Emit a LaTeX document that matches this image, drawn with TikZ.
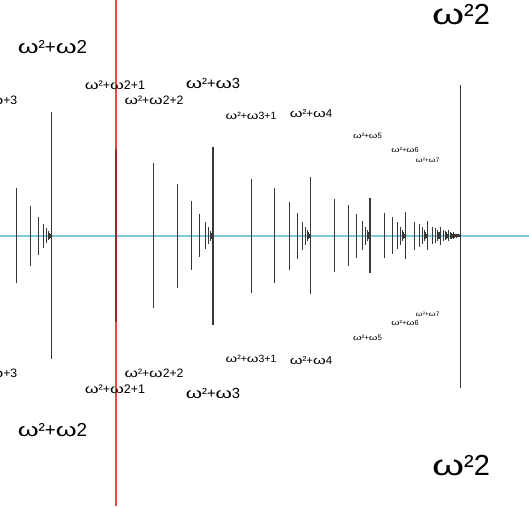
\documentclass[tikz,border=0pt]{standalone}
\usepackage{fontspec}
\setmainfont{Liberation Sans}
\definecolor{axiscyan}{RGB}{125,200,220}
\definecolor{cursorred}{RGB}{235,70,70}
\definecolor{cursordark}{RGB}{160,35,35}
\newcommand\omg{\scalebox{1.42}[1]{ω}}
\tikzset{
  stick/.style={draw=black!78, line width=1.05pt},
  cursor/.style={draw=cursorred, line width=1.6pt},
  lbl/.style={inner sep=0pt, text=black, font=\fontsize{#1}{#1}\selectfont},
}
\newcommand\stk[3]{\draw[stick] (#1,#3) ++(0,-#2) -- ++(0,{2*#2});}
\begin{document}
\begin{tikzpicture}[x=1pt,y=-1pt]
\useasboundingbox (0,0) rectangle (529,506);
\fill[white] (0,0) rectangle (529,506);
\draw[axiscyan, line width=1.8pt] (0,235.7) -- (529,235.7);
% block omega^2+omega
\foreach \j in {0,...,12} {
  \pgfmathsetmacro\xx{51.7-35.4*0.605^\j}
  \pgfmathsetmacro\hh{max(47.5*0.63^\j,1.2)}
  \stk{\xx}{\hh}{235.7}
}
% blocks 2..6
\foreach \bL/\bS/\bH in {213/161.3/86.5, 310.7/97.7/57, 370/59.3/36.5, 405.7/35.7/22.5, 427.7/22/14}{
  \foreach \n/\gf in {1/1, 2/0.835, 3/0.6, 4/0.4, 5/0.248, 6/0.157, 7/0.097, 8/0.06, 9/0.037, 10/0.023, 11/0.014, 12/0.009}{
    \pgfmathsetmacro\xx{\bL-\bS*0.605^\n}
    \pgfmathsetmacro\hh{max(\bH*\gf,1.2)}
    \stk{\xx}{\hh}{235.7}
  }
}
% blocks 7..
\foreach \m in {7,...,20}{
  \pgfmathsetmacro\bA{460.7-33*0.605^(\m-7)}
  \pgfmathsetmacro\bL{460.7-33*0.605^(\m-6)}
  \pgfmathsetmacro\bS{\bL-\bA}
  \pgfmathsetmacro\bH{0.975*14.5*0.62^(\m-6)}
  \pgfmathsetmacro\hl{max(14.5*0.62^(\m-7),1.2)}
  \ifnum\m>7 \stk{\bA}{\hl}{235.7}\fi
  \foreach \n/\gf in {1/1, 2/0.835, 3/0.6, 4/0.4, 5/0.248, 6/0.157, 7/0.097, 8/0.06}{
    \pgfmathsetmacro\xx{\bL-\bS*0.605^\n}
    \pgfmathsetmacro\hh{max(\bH*\gf,1.2)}
    \stk{\xx}{\hh}{235.7}
  }
}
% limit sticks
\foreach \x/\h in {51.7/123.5, 213/89, 310.7/58.5, 370/37.5, 405.7/23.5, 427.7/14.5}{
  \stk{\x}{\h}{235.7}
}
\draw[stick] (460.7,85) -- (460.7,388);
% cursor
\coordinate (ctop) at (115.7,0);
\coordinate (cbot) at (115.7,506);
\coordinate (cs1) at (115.7,149.2);
\coordinate (cs2) at (115.7,322.2);
\draw[cursor] (ctop) -- (cbot);
\draw[cursor, draw=cursordark] (cs1) -- (cs2);
% labels
\node[lbl=12.2] (a3t) at (-8.8,100) {\omg²+\omg+3};
\node[lbl=12.2] (a3b) at (-8.8,373) {\omg²+\omg+3};
\node[lbl=18.8] (b0t) at (52.5,47) {\omg²+\omg2};
\node[lbl=18.8] (b0b) at (52.5,430) {\omg²+\omg2};
\node[lbl=12.5] (b1t) at (115,85) {\omg²+\omg2+1};
\node[lbl=12.5] (b1b) at (115,389) {\omg²+\omg2+1};
\node[lbl=12.2] (b2t) at (154,100) {\omg²+\omg2+2};
\node[lbl=12.2] (b2b) at (154,373) {\omg²+\omg2+2};
\node[lbl=14.7] (c0t) at (213,83) {\omg²+\omg3};
\node[lbl=14.7] (c0b) at (213,393) {\omg²+\omg3};
\node[lbl=10.5] (c1t) at (251,115.5) {\omg²+\omg3+1};
\node[lbl=10.5] (c1b) at (251,358.5) {\omg²+\omg3+1};
\node[lbl=11.5] (d0t) at (311,114) {\omg²+\omg4};
\node[lbl=11.5] (d0b) at (311,361) {\omg²+\omg4};
\node[lbl=7.8] (e0t) at (367.5,136) {\omg²+\omg5};
\node[lbl=7.8] (e0b) at (367.5,338) {\omg²+\omg5};
\node[lbl=7.4] (f0t) at (405,150) {\omg²+\omg6};
\node[lbl=7.4] (f0b) at (405,323) {\omg²+\omg6};
\node[lbl=6.4] (g0t) at (427.5,160) {\omg²+\omg7};
\node[lbl=6.4] (g0b) at (427.5,314) {\omg²+\omg7};
\node[lbl=29] (zt) at (461,15) {\omg²2};
\node[lbl=29] (zb) at (461,466) {\omg²2};
\end{tikzpicture}
\end{document}
